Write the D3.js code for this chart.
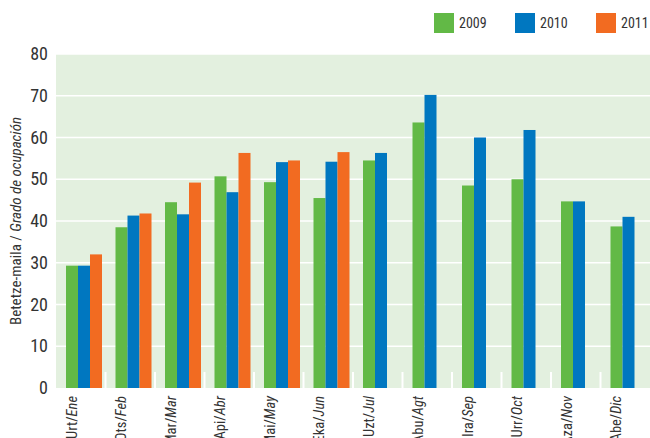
<!DOCTYPE html>
<html><head><meta charset="utf-8">
<script src="https://cdn.jsdelivr.net/npm/d3@7"></script>
<style>body{margin:0;background:#fff}text{font-family:"Liberation Sans Narrow","Roboto Condensed","DejaVu Sans Condensed",sans-serif;fill:#333}</style>
</head><body><svg id="c" width="650" height="438"></svg>
<script>
const monthsEu = ["Urt","Ots","Mar","Api","Mai","Eka","Uzt","Abu","Ira","Urr","Aza","Abe"];
const monthsEs = ["Ene","Feb","Mar","Abr","May","Jun","Jul","Agt","Sep","Oct","Nov","Dic"];
const years = ["2009","2010","2011"];
const colors = ["#62b946","#0077c0","#f26b21"];
const v2009 = [29.3,38.5,44.5,50.7,49.3,45.5,54.5,63.6,48.5,50.0,44.7,38.7];
const v2010 = [29.3,41.3,41.6,46.9,54.1,54.2,56.3,70.2,60.0,61.8,44.7,41.0];
const v2011 = [32.0,41.8,49.2,56.3,54.5,56.5,null,null,null,null,null,null];
const series = [v2009,v2010,v2011];

const svg = d3.select("#c");
const L=56,R=650,T=54,B=388;
const x = d3.scaleBand().domain(d3.range(12)).range([L,R]);
const y = d3.scaleLinear().domain([0,80]).range([B,T]);

svg.append("rect").attr("x",L).attr("y",T).attr("width",R-L).attr("height",B-T).attr("fill","#e3f0df");
svg.selectAll(".g").data(d3.range(10,90,10)).join("line")
  .attr("x1",L).attr("x2",R).attr("y1",d=>y(d)).attr("y2",d=>y(d)).attr("stroke","#fff").attr("stroke-width",1.5);
svg.selectAll(".t").data(d3.range(0,90,10)).join("text")
  .attr("x",48).attr("y",d=>y(d)+6).attr("text-anchor","end").attr("font-size",18).text(d=>d);
svg.selectAll(".sep").data(d3.range(1,12)).join("line")
  .attr("x1",i=>x(i)).attr("x2",i=>x(i)).attr("y1",B-16).attr("y2",B).attr("stroke","#fff").attr("stroke-width",2);

const bw=12;
series.forEach((s,k)=>{
  svg.append("g").selectAll("rect").data(s.map((v,i)=>({v,i})).filter(d=>d.v!=null)).join("rect")
    .attr("x",d=>x(d.i)+10+k*bw).attr("width",bw)
    .attr("y",d=>y(d.v)).attr("height",d=>y(0)-y(d.v)).attr("fill",colors[k]);
});

monthsEu.forEach((m,i)=>{
  const t=svg.append("text").attr("text-anchor","end").attr("font-size",14.5)
    .attr("transform",`translate(${x(i)+x.bandwidth()/2-4},396) rotate(-90)`);
  t.append("tspan").text(m+"/");
  t.append("tspan").attr("font-style","italic").text(monthsEs[i]);
});

const yl=svg.append("text").attr("text-anchor","middle").attr("font-size",15)
  .attr("transform",`translate(21,${(T+B)/2}) rotate(-90)`);
yl.append("tspan").text("Betetze-maila / ");
yl.append("tspan").attr("font-style","italic").text("Grado de ocupación");

years.forEach((yr,k)=>{
  const lx=434+k*81;
  svg.append("rect").attr("x",lx).attr("y",13).attr("width",20).attr("height",20).attr("fill",colors[k]);
  svg.append("text").attr("x",lx+25).attr("y",28).attr("font-size",14).text(yr);
});
</script></body></html>
